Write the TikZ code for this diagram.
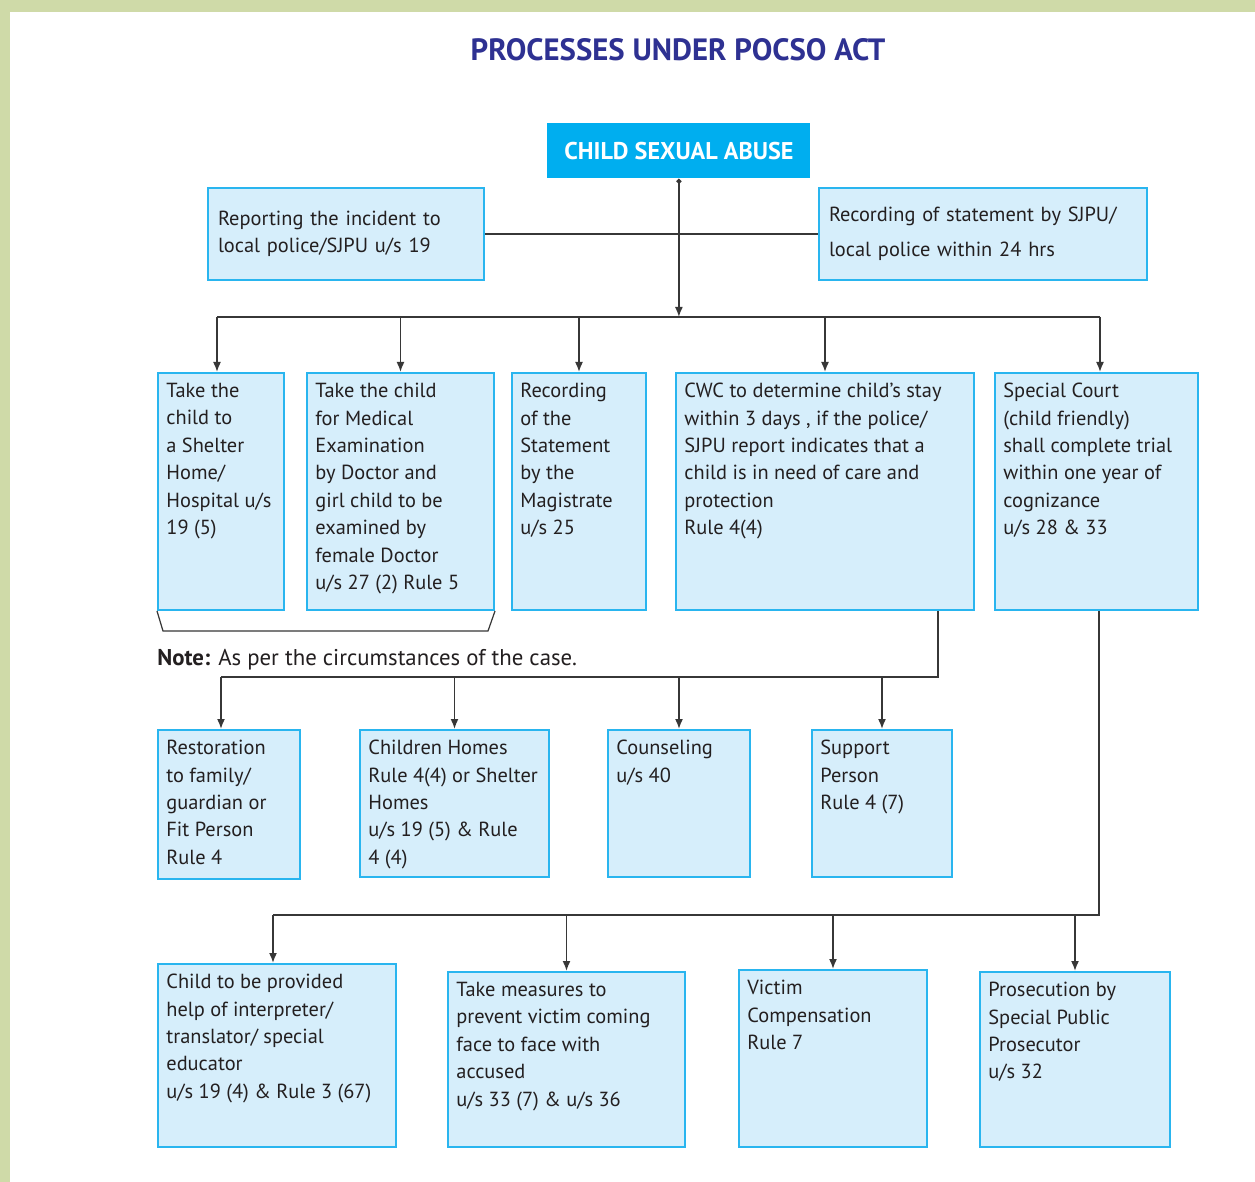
\documentclass[tikz,border=0pt]{standalone}
\usepackage{fontspec}
\setmainfont{PT Sans}
\usetikzlibrary{arrows.meta}

\definecolor{framegreen}{RGB}{207,218,168}
\definecolor{titleblue}{RGB}{46,49,146}
\definecolor{headcyan}{RGB}{0,174,239}
\definecolor{boxfill}{RGB}{214,238,251}
\definecolor{boxline}{RGB}{41,181,239}
\definecolor{ink}{RGB}{35,31,32}
\definecolor{wirecol}{RGB}{55,55,55}

\tikzset{
    box/.style={draw=boxline, fill=boxfill, line width=1pt, anchor=north west, inner sep=0pt},
    boxtext/.style={anchor=north west, align=left, inner xsep=4.5pt, inner ysep=5.4pt, text=ink,
        font=\fontsize{10.2}{13.7}\selectfont},
    wire/.style={draw=wirecol, line width=0.8pt},
    arr/.style={wire, -{Latex[length=5pt, width=4pt]}},
}

\begin{document}
\begin{tikzpicture}[x=0.5pt, y=-0.5pt]
    \useasboundingbox (0,0) rectangle (1255,1182);
    \fill[white] (0,0) rectangle (1255,1182);
    \fill[framegreen] (0,0) rectangle (1255,12);
    \fill[framegreen] (0,0) rectangle (10,1182);

    \node[text=titleblue, font=\fontsize{15.4}{18}\bfseries] (title) at (678,50) {PROCESSES UNDER POCSO ACT};

    \node[fill=headcyan, text=white, font=\fontsize{12.1}{14}\bfseries, anchor=north west,
        minimum width=131.5pt, minimum height=27.5pt] (abuse) at (547,123) {CHILD SEXUAL ABUSE};

    \node[box, inner xsep=5pt, text width=128pt, minimum height=46pt, align=left, text=ink,
        font=\fontsize{10.2}{13.7}\selectfont] (report) at (207,187)
        {Reporting the incident to\\local police/SJPU u/s 19};
    \node[box, inner xsep=5pt, text width=154pt, minimum height=46pt, align=left, text=ink,
        font=\fontsize{10.2}{13.7}\selectfont] (record) at (818,187)
        {Recording of statement by SJPU/\\[3.8pt]local police within 24 hrs};

    \node[box, minimum width=63pt, minimum height=118.5pt, label={[boxtext]north west:Take the\\child to\\a Shelter\\Home/\\Hospital u/s\\19 (5)}] (shelter) at (157,372) {};
    \node[box, minimum width=93.5pt, minimum height=118.5pt, label={[boxtext]north west:Take the child\\for Medical\\Examination\\by Doctor and\\girl child to be\\examined by\\female Doctor\\u/s 27 (2) Rule 5}] (medical) at (306,372) {};
    \node[box, minimum width=67pt, minimum height=118.5pt, label={[boxtext]north west:Recording\\of the\\Statement\\by the\\Magistrate\\u/s 25}] (magistrate) at (511,372) {};
    \node[box, minimum width=149pt, minimum height=118.5pt, label={[boxtext]north west:CWC to determine child's stay\\within 3 days , if the police/\\SJPU report indicates that a\\child is in need of care and\\protection\\Rule 4(4)}] (cwc) at (675,372) {};
    \node[box, minimum width=101.5pt, minimum height=118.5pt, label={[boxtext]north west:Special Court\\(child friendly)\\shall complete trial\\within one year of\\cognizance\\u/s 28 \& 33}] (court) at (994,372) {};

    \node[anchor=west, inner sep=0pt, text=ink, font=\fontsize{11.4}{14}\selectfont] (note) at (157,660)
        {\textbf{Note:} As per the circumstances of the case.};

    \node[box, minimum width=71pt, minimum height=74.5pt, label={[boxtext]north west:Restoration\\to family/\\guardian or\\Fit Person\\Rule 4}] (restore) at (157,729) {};
    \node[box, minimum width=94.5pt, minimum height=73.5pt, label={[boxtext]north west:Children Homes\\Rule 4(4) or Shelter\\Homes\\u/s 19 (5) \& Rule\\4 (4)}] (homes) at (359,729) {};
    \node[box, minimum width=71pt, minimum height=73.5pt, label={[boxtext]north west:Counseling\\u/s 40}] (counsel) at (607,729) {};
    \node[box, minimum width=70pt, minimum height=73.5pt, label={[boxtext]north west:Support\\Person\\Rule 4 (7)}] (support) at (811,729) {};

    \node[box, minimum width=119pt, minimum height=91.5pt, label={[boxtext]north west:Child to be provided\\help of interpreter/\\translator/ special\\educator\\u/s 19 (4) \& Rule 3 (67)}] (interp) at (157,963) {};
    \node[box, minimum width=118.5pt, minimum height=87.5pt, label={[boxtext]north west:Take measures to\\prevent victim coming\\face to face with\\accused\\u/s 33 (7) \& u/s 36}] (measures) at (447,971) {};
    \node[box, minimum width=94pt, minimum height=88.5pt, label={[boxtext]north west:Victim\\Compensation\\Rule 7}] (victim) at (738,969) {};
    \node[box, minimum width=95pt, minimum height=87.5pt, label={[boxtext]north west:Prosecution by\\Special Public\\Prosecutor\\u/s 32}] (prosec) at (979,971) {};

    \coordinate (bus1) at (678,317);
    \coordinate (bus2) at (938,677);
    \coordinate (bus3) at (1099,915);

    \draw[wire] (report.east) -- (record.west);
    \draw[wire, {Circle[length=2.5pt]}-{Latex[length=5pt, width=4pt]}] (abuse.south) -- (abuse.south |- bus1);
    \draw[wire] ([xshift=-2pt]shelter.north |- bus1) -- ([xshift=1.75pt]court.north |- bus1);
    \foreach \n/\dx in {shelter/-2, medical/0, magistrate/0, cwc/0, court/1.75}
        \draw[arr] ([xshift=\dx pt]\n.north |- bus1) -- ([xshift=\dx pt]\n.north);

    \draw[wire, line width=0.6pt] (shelter.south west) -- ++(6,20)
        -- ([shift={(-7,20)}]medical.south east) -- (medical.south east);

    \draw[wire] (cwc.south -| bus2) -- (bus2) -- ([xshift=-4pt]restore.north |- bus2);
    \foreach \n/\dx in {restore/-4, homes/0, counsel/0, support/0}
        \draw[arr] ([xshift=\dx pt]\n.north |- bus2) -- ([xshift=\dx pt]\n.north);

    \draw[wire] (court.south -| bus3) -- (bus3) -- ([xshift=-2pt]interp.north |- bus3);
    \foreach \n/\dx in {interp/-2, measures/0, victim/0, prosec/0}
        \draw[arr] ([xshift=\dx pt]\n.north |- bus3) -- ([xshift=\dx pt]\n.north);
\end{tikzpicture}
\end{document}
